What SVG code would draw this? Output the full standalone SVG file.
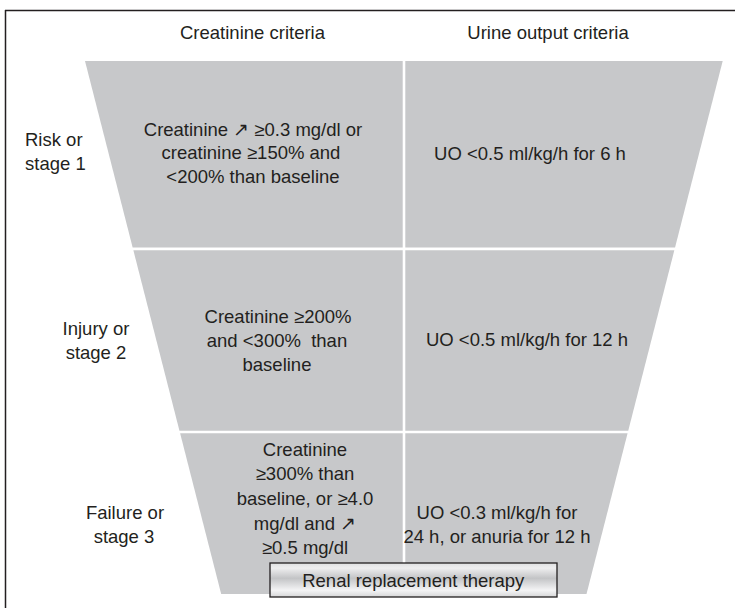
<svg xmlns="http://www.w3.org/2000/svg" width="735" height="608" viewBox="0 0 735 608">
  <style>
    .t { font-family: "Liberation Sans", Arial, sans-serif; font-size: 18.5px; fill: #231f20; }
    .c { text-anchor: middle; }
    .cell { fill: #c7c8ca; }
    .frame { stroke: #231f20; stroke-width: 1.5; fill: none; }
  </style>
  <defs>
    <linearGradient id="rrtGrad" x1="0" y1="0" x2="0" y2="1">
      <stop offset="0" stop-color="#dedfe0"/>
      <stop offset="0.15" stop-color="#eeeeef"/>
      <stop offset="0.45" stop-color="#c3c4c6"/>
      <stop offset="0.8" stop-color="#f4f4f5"/>
      <stop offset="1" stop-color="#d6d7d8"/>
    </linearGradient>
  </defs>

  <g id="frame">
    <line class="frame" x1="5" y1="10.5" x2="735" y2="10.5"/>
    <line class="frame" x1="5.5" y1="10" x2="5.5" y2="608"/>
  </g>

  <g id="headers">
    <text class="t c" x="252.5" y="38.5">Creatinine criteria</text>
    <text class="t c" x="548" y="38.5">Urine output criteria</text>
  </g>

  <g id="tier1">
    <polygon class="cell" points="85,61 402.7,61 402.7,247.5 132.65,247.5"/>
    <polygon class="cell" points="405.3,61 722.7,61 675.05,247.5 405.3,247.5"/>
    <text class="t c" x="253" y="135.7">Creatinine ↗ ≥0.3 mg/dl or</text>
    <text class="t c" x="251" y="159.3">creatinine ≥150% and</text>
    <text class="t c" x="253" y="182.7">&lt;200% than baseline</text>
    <text class="t c" x="530" y="160">UO &lt;0.5 ml/kg/h for 6 h</text>
  </g>

  <g id="tier2">
    <polygon class="cell" points="133.37,250.3 402.7,250.3 402.7,430.7 179.46,430.7"/>
    <polygon class="cell" points="405.3,250.3 674.33,250.3 628.24,430.7 405.3,430.7"/>
    <text class="t c" x="278" y="323">Creatinine ≥200%</text>
    <text class="t c" x="277" y="347" xml:space="preserve">and &lt;300%  than</text>
    <text class="t c" x="277" y="371">baseline</text>
    <text class="t c" x="527" y="346">UO &lt;0.5 ml/kg/h for 12 h</text>
  </g>

  <g id="tier3">
    <polygon class="cell" points="180.12,433.3 402.7,433.3 402.7,594 221.18,594"/>
    <polygon class="cell" points="405.3,433.3 627.58,433.3 586.52,594 405.3,594"/>
    <text class="t c" x="305" y="455.5">Creatinine</text>
    <text class="t c" x="305" y="480">≥300% than</text>
    <text class="t c" x="305" y="505">baseline, or ≥4.0</text>
    <text class="t c" x="305" y="529.5">mg/dl and ↗</text>
    <text class="t c" x="305" y="554">≥0.5 mg/dl</text>
    <text class="t c" x="497" y="519">UO &lt;0.3 ml/kg/h for</text>
    <text class="t c" x="497" y="543">24 h, or anuria for 12 h</text>
  </g>

  <g id="stage1">
    <text class="t" x="25" y="146">Risk or</text>
    <text class="t" x="25" y="170">stage 1</text>
  </g>
  <g id="stage2">
    <text class="t c" x="96" y="335">Injury or</text>
    <text class="t c" x="96" y="359">stage 2</text>
  </g>
  <g id="stage3">
    <text class="t c" x="125" y="519">Failure or</text>
    <text class="t c" x="124" y="543">stage 3</text>
  </g>

  <g id="rrt">
    <rect x="270" y="563" width="287" height="34" fill="url(#rrtGrad)" stroke="#231f20" stroke-width="1.3"/>
    <text class="t c" x="413.3" y="586.5">Renal replacement therapy</text>
  </g>
</svg>
